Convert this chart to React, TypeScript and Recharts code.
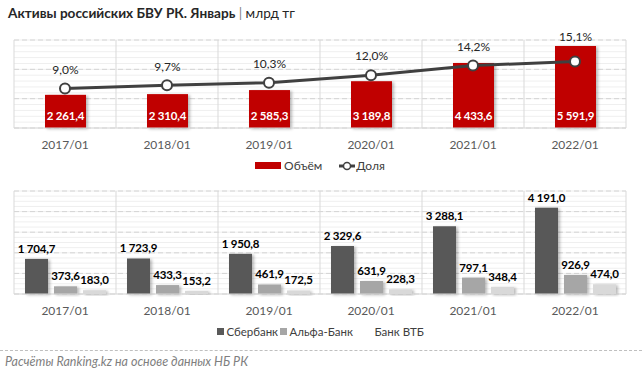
import React from "react";
import {
  ComposedChart,
  BarChart,
  Bar,
  Line,
  XAxis,
  YAxis,
  CartesianGrid,
  Legend,
  LabelList,
} from "recharts";

const periods = ["2017/01", "2018/01", "2019/01", "2020/01", "2021/01", "2022/01"];
const volume = [2261.4, 2310.4, 2585.3, 3189.8, 4433.6, 5591.9];
const share = [9.0, 9.7, 10.3, 12.0, 14.2, 15.1];
const sberbank = [1704.7, 1723.9, 1950.8, 2329.6, 3288.1, 4191.0];
const alfabank = [373.6, 433.3, 461.9, 631.9, 797.1, 926.9];
const vtb = [183.0, 153.2, 172.5, 228.3, 348.4, 474.0];
const bankNames = ["Сбербанк", "Альфа-Банк", "Банк ВТБ"];

const VOL_MAX = 6000;
const PCT_MAX = 20;

const FONT = "Lato, 'Open Sans', sans-serif";
const RED = "#c00000";
const LINE = "#404040";
const BANK_COLORS = ["#595959", "#a6a6a6", "#d9d9d9"];

const topData = periods.map((p, i) => ({ period: p, volume: volume[i], share: share[i] }));
const bankData = periods.map((p, i) => ({
  period: p,
  sber: sberbank[i],
  alfa: alfabank[i],
  vtb: vtb[i],
}));

// "2 261,4" style numbers
const fmt = (v: number) => {
  const [int, dec] = v.toFixed(1).split(".");
  return int.replace(/\B(?=(\d{3})+(?!\d))/g, " ") + "," + dec;
};
const fmtPct = (v: number) => v.toFixed(1).replace(".", ",") + "%";

// evenly split plot area into n parts (grid helper)
const splitX = (n: number) => ({ offset }: any) =>
  Array.from({ length: n + 1 }, (_, i) => offset.left + (offset.width * i) / n);
const splitY = (n: number) => ({ offset }: any) =>
  Array.from({ length: n + 1 }, (_, i) => offset.top + (offset.height * i) / n);

const ShadowBar = (props: any) => {
  const { x, y, width, height, fill } = props;
  if (!height || height <= 0) return null;
  return <rect x={x} y={y} width={width} height={height} fill={fill} filter="url(#barShadow)" />;
};

const ShadowDefs = () => (
  <defs>
    <filter id="barShadow" x="-20%" y="-20%" width="160%" height="150%">
      <feDropShadow dx="2" dy="1" stdDeviation="1.5" floodColor="#000" floodOpacity="0.28" />
    </filter>
  </defs>
);

// white value inside bar, near its bottom
const InsideBottomLabel = (props: any) => {
  const { x, y, width, height, value } = props;
  return (
    <text x={x + width / 2} y={y + height - 8} textAnchor="middle" fill="#fff" fontSize={11.5} fontWeight={700} letterSpacing={-0.2}>
      {fmt(Number(value))}
    </text>
  );
};

// share label: above the dot, but kept clear of the bar top
const ShareLabel = (props: any) => {
  const { x, y, width, height, index } = props;
  const bottom = y + height;
  const plotH = (height * VOL_MAX) / volume[index];
  const dotY = bottom - (plotH * share[index]) / PCT_MAX;
  const cy = Math.min(dotY - 19, y - 9);
  return (
    <text x={x + width / 2} y={cy} dy="0.35em" textAnchor="middle" fill="#262626" fontSize={12}>
      {fmtPct(share[index])}
    </text>
  );
};

const TopLabel = (props: any) => {
  const { x, y, width, value } = props;
  return (
    <text x={x + width / 2} y={y - 6} textAnchor="middle" fill="#000" fontSize={11.5} fontWeight={700} letterSpacing={-0.2}>
      {fmt(Number(value))}
    </text>
  );
};

const TopLegend = () => (
  <div style={{ display: "flex", justifyContent: "center", alignItems: "center", fontSize: 12, color: "#404040", fontFamily: FONT }}>
    <span style={{ display: "inline-block", width: 26, height: 7, background: RED, marginRight: 3 }} />
    <span style={{ marginRight: 17 }}>Объём</span>
    <svg width={16} height={10} style={{ marginRight: 1 }}>
      <line x1={0} y1={5} x2={16} y2={5} stroke={LINE} strokeWidth={3} />
      <circle cx={8} cy={5} r={3.5} fill="#fff" stroke={LINE} strokeWidth={1.5} />
    </svg>
    <span>Доля</span>
  </div>
);

const BankLegend = () => (
  <div style={{ display: "flex", justifyContent: "center", alignItems: "center", fontSize: 11.5, color: "#404040", fontFamily: FONT }}>
    {bankNames.map((name, i) => (
      <span key={name} style={{ display: "inline-flex", alignItems: "center", width: [63, 92, 52][i], whiteSpace: "nowrap" }}>
        <span style={{ display: "inline-block", width: 7, height: 7, background: BANK_COLORS[i], marginRight: 3 }} />
        {name}
      </span>
    ))}
  </div>
);

export default function App() {
  return (
    <div
      style={{
        position: "absolute",
        left: 0,
        top: 0,
        width: 642,
        height: 375,
        background: "#fff",
        fontFamily: FONT,
        overflow: "hidden",
      }}
    >
      <div style={{ position: "absolute", left: 8, top: 5, fontSize: 13.6, color: "#262626", whiteSpace: "nowrap" }}>
        <b>Активы российских БВУ РК. Январь</b>
        <span style={{ color: "#7f7f7f" }}> | </span>
        <span>млрд тг</span>
      </div>

      <div style={{ position: "absolute", left: 0, top: 0 }}>
        <ComposedChart width={642} height={185} data={topData} margin={{ top: 40, right: 16, bottom: 3, left: 14 }}>
          <ShadowDefs />
          <CartesianGrid vertical={false} stroke="#efefef" horizontalCoordinatesGenerator={splitY(15)} />
          <CartesianGrid vertical={false} stroke="#d4d4d4" strokeDasharray="5 3" horizontalCoordinatesGenerator={splitY(3)} />
          <CartesianGrid horizontal={false} stroke="#d9d9d9" verticalCoordinatesGenerator={splitX(6)} />
          <XAxis
            dataKey="period"
            height={30}
            tickLine={false}
            axisLine={{ stroke: "#d9d9d9" }}
            tickMargin={6}
            tick={{ fill: "#595959", fontSize: 12 }}
          />
          <YAxis yAxisId="vol" hide domain={[0, VOL_MAX]} />
          <YAxis yAxisId="pct" hide orientation="right" domain={[0, PCT_MAX]} />
          <Legend verticalAlign="bottom" height={24} content={() => <TopLegend />} />
          <Bar yAxisId="vol" dataKey="volume" fill={RED} barSize={41} shape={ShadowBar} isAnimationActive={false}>
            <LabelList dataKey="volume" content={InsideBottomLabel} />
            <LabelList dataKey="share" content={ShareLabel} />
          </Bar>
          <Line
            yAxisId="pct"
            dataKey="share"
            stroke={LINE}
            strokeWidth={3}
            dot={{ r: 5, fill: "#fff", stroke: LINE, strokeWidth: 2 }}
            isAnimationActive={false}
          />
        </ComposedChart>
      </div>

      <div style={{ position: "absolute", left: 0, top: 180 }}>
        <BarChart width={642} height={165} data={bankData} margin={{ top: 11, right: 16, bottom: 0, left: 14 }} barGap={6}>
          <ShadowDefs />
          <CartesianGrid vertical={false} stroke="#efefef" horizontalCoordinatesGenerator={splitY(20)} />
          <CartesianGrid vertical={false} stroke="#d4d4d4" strokeDasharray="5 3" horizontalCoordinatesGenerator={splitY(5)} />
          <CartesianGrid horizontal={false} stroke="#d9d9d9" verticalCoordinatesGenerator={splitX(6)} />
          <XAxis
            dataKey="period"
            height={31}
            tickLine={false}
            axisLine={{ stroke: "#d9d9d9" }}
            tickMargin={6}
            tick={{ fill: "#595959", fontSize: 12 }}
          />
          <YAxis hide domain={[0, 5000]} />
          <Legend verticalAlign="bottom" height={20} content={() => <BankLegend />} />
          {(["sber", "alfa", "vtb"] as const).map((key, i) => (
            <Bar key={key} dataKey={key} fill={BANK_COLORS[i]} barSize={23} shape={ShadowBar} isAnimationActive={false}>
              <LabelList dataKey={key} content={TopLabel} />
            </Bar>
          ))}
        </BarChart>
      </div>

      <div style={{ position: "absolute", left: 0, top: 350, width: 642, borderTop: "1px dashed #bfbfbf" }} />
      <div style={{ position: "absolute", left: 5, top: 354, fontSize: 12.5, fontStyle: "italic", color: "#7f7f7f", whiteSpace: "nowrap" }}>
        Расчёты Ranking.kz на основе данных НБ РК
      </div>
    </div>
  );
}
